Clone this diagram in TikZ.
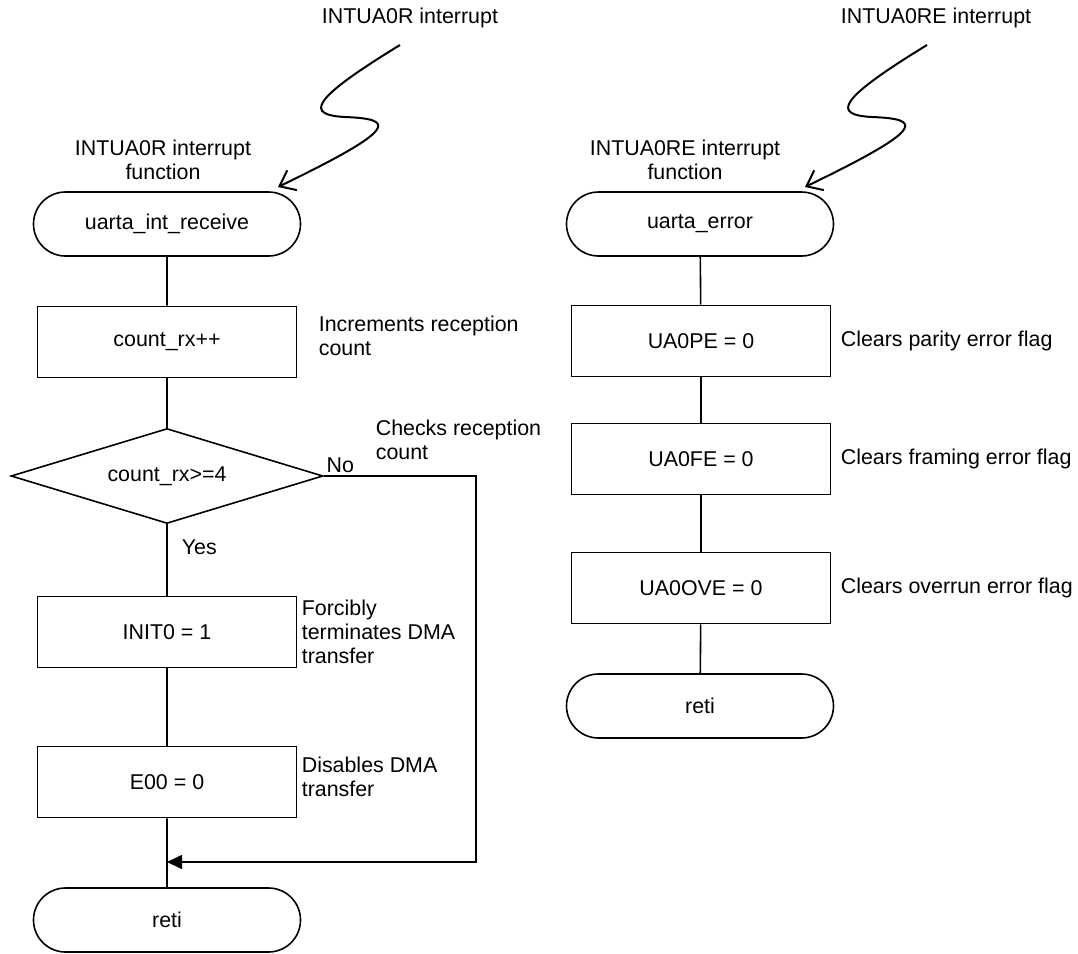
\documentclass[tikz,border=0pt]{standalone}
\usepackage{fontspec}
\setmainfont{Liberation Sans}
\usetikzlibrary{shapes.geometric, shapes.misc, arrows.meta}

\begin{document}
\begin{tikzpicture}[x=0.5pt, y=-0.5pt, line width=0.8pt,
  font=\fontsize{10.7pt}{12pt}\selectfont,
  terminal/.style={draw, rounded rectangle, minimum width=133.5pt, minimum height=32pt, inner sep=0pt},
  procbox/.style={draw, rectangle, minimum width=129.5pt, minimum height=35.5pt, inner sep=0pt},
  decision/.style={draw, diamond, aspect=3.3, minimum width=156pt, minimum height=47.5pt, inner sep=0pt},
  note/.style={anchor=west, align=left, inner sep=0pt},
  zap/.style={-{Straight Barb[length=7pt, width=11pt]}, line width=1pt},
  back/.style={-{Triangle[length=7.5pt, width=7pt]}}]
\useasboundingbox (0,0) rectangle (1078,954);

% left flow
\node [terminal] (recv) at (167,224) {uarta\_int\_receive};
\foreach \n/\t/\y in {cnt/count\_rx++/342, init/INIT0 = 1/632, dis/E00 = 0/782}
  \node [procbox] (\n) at (167,\y) {\t};
\node [decision] (chk) at (167,476) {count\_rx>=4};
\node [terminal] (reti1) at (167,920) {reti};

% right flow
\node [terminal] (err) at (700,224) {uarta\_error};
\foreach \n/\t/\y in {pe/UA0PE = 0/341, fe/UA0FE = 0/459, ove/UA0OVE = 0/588}
  \node [procbox] (\n) at (701,\y) {\t};
\node [terminal] (reti2) at (700,706) {reti};

% headings
\node [align=center, inner sep=0pt] (lbl1) at (163,160) {INTUA0R interrupt\\function};
\node [align=center, inner sep=0pt] (lbl2) at (685,160) {INTUA0RE interrupt\\function};
\node [inner sep=0pt] (int1) at (410,18) {INTUA0R interrupt};
\node [inner sep=0pt] (int2) at (936,18) {INTUA0RE interrupt};

% comments
\node [note] (c-cnt) at (318,336) {Increments reception\\count};
\node [note] (c-chk) at (375,440) {Checks reception\\count};
\node [note] (c-init) at (301,632) {Forcibly\\terminates DMA\\transfer};
\node [note] (c-dis) at (301,777) {Disables DMA\\transfer};
\foreach \n/\t/\y in {pe/parity/341, fe/framing/459, ove/overrun/588}
  \node [note] (c-\n) at (840,\y) {Clears \t{} error flag};

% interrupts
\coordinate (src1) at (400,45);
\coordinate (tip1) at (278,187);
\coordinate (src2) at (927,45);
\coordinate (tip2) at (805,187);
\foreach \s/\e in {src1/tip1, src2/tip2}
  \draw [zap] (\s) .. controls +(-90,55) and +(-40,-2) .. ++(-55,72)
    .. controls +(50,2) and +(122,-59) .. (\e);

% connectors
\draw (recv) -- (cnt);
\draw (cnt) -- (chk);
\draw (chk) -- (init);
\node [anchor=west, inner sep=0pt] (yes) at (181,547) {Yes};
\draw (init) -- (dis);
\draw (dis) -- (reti1);
\node [anchor=south west, inner sep=1pt] (no) at (chk.east) {No};
\coordinate (join) at (167,862);
\coordinate (turn) at (476,862);
\draw [back] (chk.east) -| (turn) -- (join);

\draw (err) -- (pe);
\draw (pe) -- (fe);
\draw (fe) -- (ove);
\draw (ove) -- (reti2);
\end{tikzpicture}
\end{document}
